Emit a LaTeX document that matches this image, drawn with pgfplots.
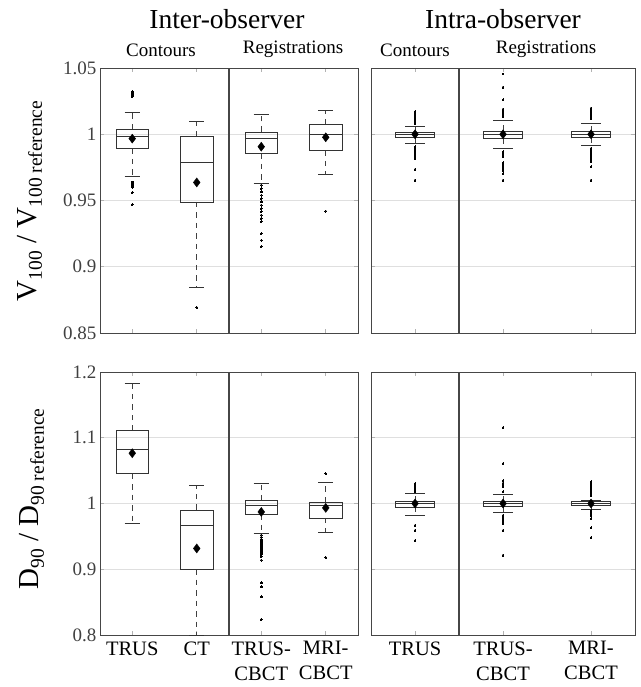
\documentclass[border=0pt]{standalone}
\usepackage{fontspec}
\setmainfont{Liberation Serif}
\usepackage{pgfplots}
\pgfplotsset{compat=1.18}
\usepgfplotslibrary{statistics}

\pgfplotsset{
  boxplot/draw/lower whisker/.code={%
    \draw[black!75, dash pattern=on 5.5pt off 5pt]
      (boxplot box cs:\pgfplotsboxplotvalue{lower quartile},0.5) --
      (boxplot box cs:\pgfplotsboxplotvalue{lower whisker},0.5);
    \draw[black!80]
      (boxplot whisker cs:\pgfplotsboxplotvalue{lower whisker},0) --
      (boxplot whisker cs:\pgfplotsboxplotvalue{lower whisker},1);
  },
  boxplot/draw/upper whisker/.code={%
    \draw[black!75, dash pattern=on 5.5pt off 5pt]
      (boxplot box cs:\pgfplotsboxplotvalue{upper quartile},0.5) --
      (boxplot box cs:\pgfplotsboxplotvalue{upper whisker},0.5);
    \draw[black!80]
      (boxplot whisker cs:\pgfplotsboxplotvalue{upper whisker},0) --
      (boxplot whisker cs:\pgfplotsboxplotvalue{upper whisker},1);
  },
  myaxis/.style={
    scale only axis,
    anchor=north west,
    boxplot/draw direction=y,
    axis line style={gray!55!black, line width=0.9pt},
    ymajorgrids,
    major grid style={gray!25, line width=0.9pt},
    tick style={gray!60, line width=0.8pt},
    major tick length=4pt,
    tick align=inside,
    /pgf/number format/assume math mode=true,
    yticklabel style={font=\fontsize{19}{19}\selectfont, text=gray!50!black},
    xticklabel style={font=\fontsize{20.5}{25}\selectfont, align=center, text=black, yshift=-3pt},
    extra x tick style={grid=major, major grid style={gray!55!black, line width=1.1pt}, major tick length=0pt},
    extra x tick labels={},
  },
  leftbox/.style={boxplot/box extend=0.5, boxplot/whisker extend=0.24},
  rightbox/.style={boxplot/box extend=0.45, boxplot/whisker extend=0.22},
  bx/.style={black!80, line width=0.75pt, mark=*, mark size=0.95pt, mark options={fill=black, draw=black, solid, line width=0pt}},
  meanmk/.style={only marks, mark=diamond*, mark size=4.5pt, black, mark options={fill=black}},
}

\begin{document}
\begin{tikzpicture}
\path[use as bounding box] (0pt,0pt) rectangle (640pt,-687pt);

% titles
\node[font=\fontsize{27.5}{30}\selectfont] at (227pt,-19pt) {Inter-observer};
\node[font=\fontsize{27.5}{30}\selectfont] at (503pt,-19pt) {Intra-observer};
\node[font=\fontsize{19}{22}\selectfont, anchor=base] at (161pt,-57pt) {Contours};
\node[font=\fontsize{19}{22}\selectfont, anchor=base] at (293pt,-54pt) {Registrations};
\node[font=\fontsize{19}{22}\selectfont, anchor=base] at (415pt,-57pt) {Contours};
\node[font=\fontsize{19}{22}\selectfont, anchor=base] at (546pt,-54pt) {Registrations};

% y labels
\node[rotate=90, font=\fontsize{29}{32}\selectfont] at (30pt,-201pt)
  {V{\fontsize{19.5}{22}\selectfont\raisebox{-5pt}{100}} / V{\fontsize{19.5}{22}\selectfont\raisebox{-5pt}{100 reference}}};
\node[rotate=90, font=\fontsize{29}{32}\selectfont] at (32pt,-499pt)
  {D{\fontsize{19.5}{22}\selectfont\raisebox{-5pt}{90}} / D{\fontsize{19.5}{22}\selectfont\raisebox{-5pt}{90 reference}}};

% ---------------- Top-left: V100 inter-observer ----------------
\begin{axis}[myaxis, leftbox, at={(100pt,-68pt)}, width=258pt, height=265pt,
  xmin=0.5, xmax=4.5, ymin=0.85, ymax=1.05,
  xtick={1,2,3,4}, xticklabels={}, ytick={0.85,0.9,0.95,1,1.05},
  extra x ticks={2.5}]
\addplot[bx, boxplot prepared={draw position=1, lower whisker=0.968, lower quartile=0.9894, median=0.9987, upper quartile=1.0038, upper whisker=1.0164}]
  table[row sep=\\, y index=0] {1.0323\\1.0315\\1.0308\\1.0300\\1.0292\\1.0285\\0.9640\\0.9632\\0.9624\\0.9616\\0.9608\\0.9600\\0.9560\\0.9470\\};
\addplot[bx, boxplot prepared={draw position=2, lower whisker=0.8843, lower quartile=0.9489, median=0.9785, upper quartile=0.9985, upper whisker=1.0096}]
  table[row sep=\\, y index=0] {0.8693\\};
\addplot[bx, boxplot prepared={draw position=3, lower whisker=0.9633, lower quartile=0.9856, median=0.9970, upper quartile=1.0017, upper whisker=1.0149}]
  table[row sep=\\, y index=0] {0.9616\\0.9590\\0.9565\\0.9540\\0.9515\\0.9490\\0.9465\\0.9440\\0.9415\\0.9390\\0.9365\\0.9340\\0.9250\\0.9200\\0.9153\\};
\addplot[bx, boxplot prepared={draw position=4, lower whisker=0.9697, lower quartile=0.9879, median=1.0002, upper quartile=1.0076, upper whisker=1.0179}]
  table[row sep=\\, y index=0] {0.9420\\};
\addplot[meanmk] coordinates {(1,0.9967) (2,0.9636) (3,0.9906) (4,0.9977)};
\end{axis}

% ---------------- Top-right: V100 intra-observer ----------------
\begin{axis}[myaxis, rightbox, at={(371pt,-68pt)}, width=264pt, height=265pt,
  xmin=0.5, xmax=3.5, ymin=0.85, ymax=1.05,
  xtick={1,2,3}, xticklabels={}, ytick={0.85,0.9,0.95,1,1.05}, yticklabels={},
  extra x ticks={1.5}]
\addplot[bx, boxplot prepared={draw position=1, lower whisker=0.9932, lower quartile=0.9977, median=0.9997, upper quartile=1.0015, upper whisker=1.0058}]
  table[row sep=\\, y index=0] {1.0171\\1.0160\\1.0150\\1.0140\\1.0130\\1.0120\\1.0110\\1.0100\\1.0090\\1.0083\\0.9906\\0.9895\\0.9885\\0.9875\\0.9865\\0.9855\\0.9845\\0.9835\\0.9825\\0.9818\\0.9735\\0.9654\\};
\addplot[bx, boxplot prepared={draw position=2, lower whisker=0.9891, lower quartile=0.9967, median=1.0000, upper quartile=1.0025, upper whisker=1.0103}]
  table[row sep=\\, y index=0] {1.0455\\1.0356\\1.0260\\1.0190\\1.0178\\1.0166\\1.0155\\1.0143\\1.0133\\0.9868\\0.9855\\0.9843\\0.9830\\0.9785\\0.9770\\0.9755\\0.9740\\0.9725\\0.9704\\0.9654\\};
\addplot[bx, boxplot prepared={draw position=3, lower whisker=0.9917, lower quartile=0.9974, median=1.0000, upper quartile=1.0023, upper whisker=1.0083}]
  table[row sep=\\, y index=0] {1.0197\\1.0185\\1.0173\\1.0160\\1.0148\\1.0135\\1.0121\\0.9894\\0.9880\\0.9865\\0.9850\\0.9835\\0.9820\\0.9806\\0.9792\\0.9754\\0.9654\\};
\addplot[meanmk] coordinates {(1,1.0000) (2,1.0000) (3,1.0000)};
\end{axis}

% ---------------- Bottom-left: D90 inter-observer ----------------
\begin{axis}[myaxis, leftbox, at={(100pt,-372pt)}, width=258pt, height=263pt,
  xmin=0.5, xmax=4.5, ymin=0.8, ymax=1.2, clip=false,
  xtick={1,2,3,4}, xticklabels={TRUS, CT, TRUS-\\CBCT, MRI-\\CBCT},
  ytick={0.8,0.9,1,1.1,1.2},
  extra x ticks={2.5}]
\addplot[bx, boxplot prepared={draw position=1, lower whisker=0.9705, lower quartile=1.0456, median=1.0830, upper quartile=1.1110, upper whisker=1.1833}]
  coordinates {};
\addplot[bx, boxplot prepared={draw position=2, lower whisker=0.7990, lower quartile=0.9001, median=0.9670, upper quartile=0.9903, upper whisker=1.0283}]
  coordinates {};
\addplot[bx, boxplot prepared={draw position=3, lower whisker=0.9553, lower quartile=0.9833, median=0.9974, upper quartile=1.0040, upper whisker=1.0304}]
  table[row sep=\\, y index=0] {0.9518\\0.9490\\0.9460\\0.9430\\0.9400\\0.9370\\0.9340\\0.9310\\0.9280\\0.9250\\0.9220\\0.9190\\0.9138\\0.8793\\0.8733\\0.8580\\0.8237\\};
\addplot[bx, boxplot prepared={draw position=4, lower whisker=0.9559, lower quartile=0.9780, median=0.9964, upper quartile=1.0020, upper whisker=1.0320}]
  table[row sep=\\, y index=0] {1.0456\\0.9180\\};
\addplot[meanmk] coordinates {(1,1.0765) (2,0.9316) (3,0.9872) (4,0.9933)};
\end{axis}

% ---------------- Bottom-right: D90 intra-observer ----------------
\begin{axis}[myaxis, rightbox, at={(371pt,-372pt)}, width=264pt, height=263pt,
  xmin=0.5, xmax=3.5, ymin=0.8, ymax=1.2,
  xtick={1,2,3}, xticklabels={TRUS, TRUS-\\CBCT, MRI-\\CBCT},
  ytick={0.8,0.9,1,1.1,1.2}, yticklabels={},
  extra x ticks={1.5}]
\addplot[bx, boxplot prepared={draw position=1, lower whisker=0.9827, lower quartile=0.9948, median=1.0000, upper quartile=1.0035, upper whisker=1.0152}]
  table[row sep=\\, y index=0] {1.0304\\1.0280\\1.0260\\1.0240\\1.0220\\1.0198\\1.0176\\0.9670\\0.9594\\0.9438\\};
\addplot[bx, boxplot prepared={draw position=2, lower whisker=0.9863, lower quartile=0.9959, median=1.0000, upper quartile=1.0025, upper whisker=1.0137}]
  table[row sep=\\, y index=0] {1.1155\\1.0608\\1.0344\\1.0310\\1.0280\\1.0252\\1.0176\\0.9820\\0.9780\\0.9755\\0.9730\\0.9696\\0.9594\\0.9214\\};
\addplot[bx, boxplot prepared={draw position=3, lower whisker=0.9914, lower quartile=0.9974, median=1.0000, upper quartile=1.0025, upper whisker=1.0055}]
  table[row sep=\\, y index=0] {1.0329\\1.0305\\1.0280\\1.0255\\1.0230\\1.0205\\1.0180\\1.0155\\1.0126\\0.9888\\0.9860\\0.9835\\0.9810\\0.9772\\0.9630\\0.9483\\};
\addplot[meanmk] coordinates {(1,1.0000) (2,1.0000) (3,1.0000)};
\end{axis}
\end{tikzpicture}
\end{document}
